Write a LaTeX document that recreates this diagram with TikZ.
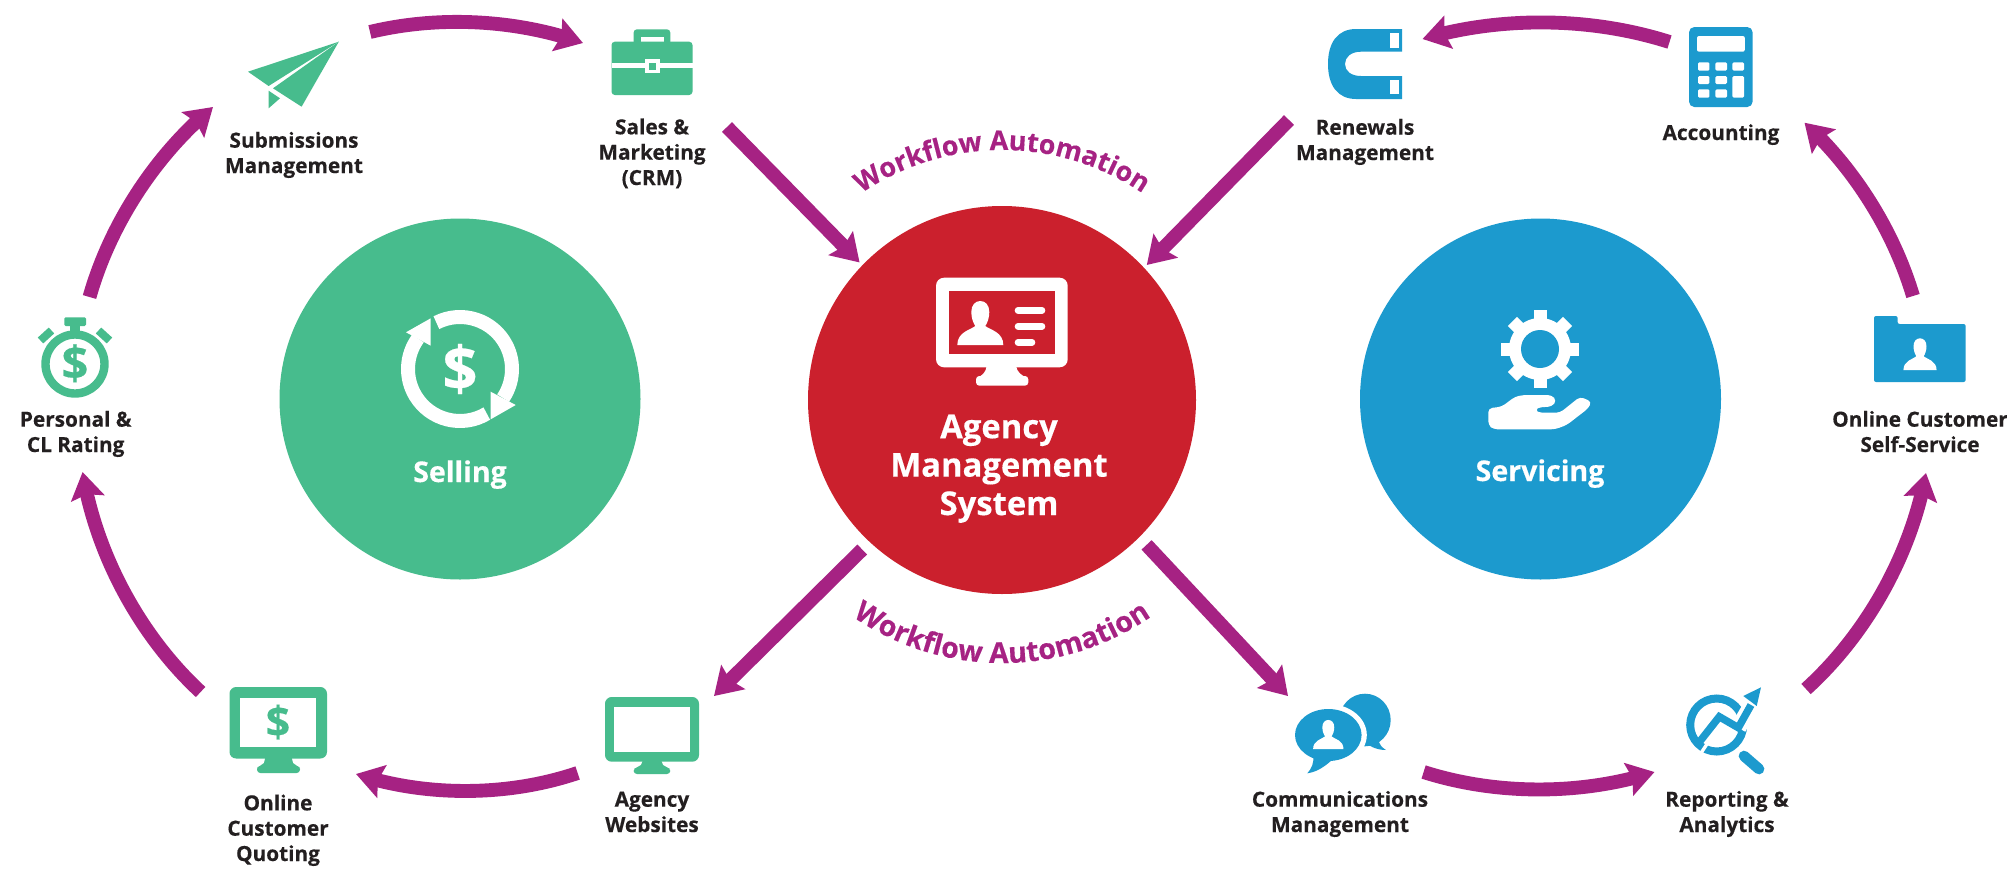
\documentclass[tikz,border=0pt]{standalone}
\usepackage{fontspec}
\setmainfont{Open Sans}[BoldFeatures={FakeBold=0.35}]
\usetikzlibrary{arrows.meta,calc,decorations.text,bending}
\definecolor{greenc}{HTML}{47BC8D}
\definecolor{redc}{HTML}{CB202D}
\definecolor{bluec}{HTML}{1C9ACE}
\definecolor{flowc}{HTML}{A62283}
\definecolor{ink}{HTML}{231F20}
\newcommand{\lfont}{\fontsize{15.6}{19}\selectfont\bfseries}
\newcommand{\hfont}{\fontsize{24.6}{28.8}\selectfont\bfseries}
\newcommand{\sfont}{\fontsize{21.4}{25}\selectfont\bfseries}
\newcommand{\wffont}{\fontsize{20.2}{23}\selectfont\bfseries\color{flowc}}
\newcommand{\wfbfont}{\fontsize{21.5}{23}\selectfont\bfseries\color{flowc}}
\tikzset{
  x=0.75pt,y=-0.75pt,
  lab/.style={font=\lfont,align=center,anchor=base,text=ink,inner sep=0pt},
  big/.style={font=\hfont,align=center,anchor=base,text=white,inner sep=0pt},
  sub/.style={font=\sfont,anchor=base,text=white,inner sep=0pt},
  hub/.style={circle,fill=#1,draw=none,inner sep=0pt},
  flow/.style={draw=flowc,line width=10.4pt,-{Stealth[length=20pt,width=25pt,inset=3pt]}},
  dollar/.style={inner sep=0pt,text=#1},
}
% person glyph: origin = middle of the base line; 46 wide, 44 high before scaling
\newcommand{\personic}[4]{%
  \begin{scope}[shift={(#1,#2)},scale=#3]
  \fill[#4] (-23,0) .. controls (-23,-13) and (-10,-15) .. (-5,-19)
    .. controls (-7,-22) and (-9,-27) .. (-9,-33)
    .. controls (-9,-40) and (-5,-44) .. (0,-44)
    .. controls (5,-44) and (9,-40) .. (9,-33)
    .. controls (9,-27) and (7,-22) .. (5,-19)
    .. controls (10,-15) and (23,-13) .. (23,0) -- cycle;
  \end{scope}}
\begin{document}
\begin{tikzpicture}
\useasboundingbox (0,0) rectangle (2007,868);
\fill[white] (0,0) rectangle (2007,868);

% hubs
\node[hub=greenc,minimum size=270.75pt] (selling) at (460,399) {};
\node[hub=redc,minimum size=291pt,outer sep=3pt] (ams) at (1002,400) {};
\node[hub=bluec,minimum size=270.75pt] (servicing) at (1540.5,399) {};

% curved captions
\path[decorate,decoration={text along path,text align=center,
   text={|\wffont|Workflow Automation}}]
   (1002,400) ++(-140:250) arc[start angle=-140,end angle=-40,radius=250];
\path[decorate,decoration={text along path,text align=center,
   text={|\wfbfont|Workflow Automation}}]
   (1002,400) ++(140:263) arc[start angle=140,end angle=40,radius=263];

% connector end points
\coordinate (rating-out) at (89.5,297);
\coordinate (sub-in) at (213,107);
\coordinate (sales-in) at (583,43);
\coordinate (sub-out) at (370,32);
\coordinate (sales-out) at (727,127);
\coordinate (web-in) at (714,696);
\coordinate (web-out) at (577.6,773);
\coordinate (quote-in) at (356,774);
\coordinate (quote-out) at (200.6,692);
\coordinate (rating-in) at (82.6,472);
\coordinate (comm-in) at (1288,696);
\coordinate (comm-out) at (1423.6,772);
\coordinate (rep-in) at (1654.5,772);
\coordinate (rep-out) at (1806,689);
\coordinate (folder-in) at (1926,473);
\coordinate (folder-out) at (1913,296);
\coordinate (acc-in) at (1804.5,122.7);
\coordinate (acc-out) at (1669.5,42);
\coordinate (mag-in) at (1422.5,39);
\coordinate (mag-out) at (1289,120);

% ring arrows
\draw[flow] (rating-out) to[bend left=17.2,looseness=.85] (sub-in);
\draw[flow] (sub-out) to[bend left=16.5,looseness=.85] (sales-in);
\draw[flow] (web-out) to[bend left=18.4,looseness=.85] (quote-in);
\draw[flow] (quote-out) to[bend left=19,looseness=.85] (rating-in);
\draw[flow] (comm-out) to[bend right=17.7,looseness=.85] (rep-in);
\draw[flow] (rep-out) to[bend right=18.8,looseness=.85] (folder-in);
\draw[flow] (folder-out) to[bend right=15.4,looseness=.85] (acc-in);
\draw[flow] (acc-out) to[bend right=17,looseness=.85] (mag-in);
% straight arrows
\draw[flow] (sales-out) -- (ams.136);
\draw[flow] (mag-out) -- (ams.43.6);
\draw[flow,shorten <=5pt] (ams.-133.8) -- (web-in);
\draw[flow,shorten <=5pt] (ams.-45.8) -- (comm-in);

% --- selling icon
\draw[white,line width=10.5pt] (460,369) ++(-117:52) arc[start angle=-117,end angle=34,radius=52];
\draw[white,line width=10.5pt] (460,369) ++(59:52) arc[start angle=59,end angle=216,radius=52];
\fill[white] (490.7,391.7) -- (515.7,405) -- (490.7,419.3) -- cycle;
\fill[white] (406,332.3) -- (430.7,318.3) -- (430.7,345.7) -- cycle;
\node[dollar=white,font=\fontsize{46}{46}\selectfont\bfseries] (d-sell) at (460,369) {\$};
\node[sub] (t-sell) at (460,482) {Selling};

% --- AMS icon
\fill[white,rounded corners=6pt] (936,277.7) rectangle (1067.7,367.3);
\fill[redc] (949,291) rectangle (1055,353.7);
\fill[white] (986.7,366) .. controls (986,372) and (982,376) .. (978,377) -- (1026,377)
   .. controls (1022,376) and (1017,372) .. (1016,366) -- cycle;
\fill[white,rounded corners=2.5pt] (976,376) rectangle (1028.3,385.7);
\personic{980.3}{345}{1}{white}
\draw[white,line width=5pt,line cap=round] (1018,310.3) -- (1042,310.3);
\draw[white,line width=5pt,line cap=round] (1018,326.3) -- (1042,326.3);
\draw[white,line width=5pt,line cap=round] (1018,342.3) -- (1032,342.3);
\node[big] (t-ams) at (999,515) {Agency\\Management\\System};

% --- servicing icon
\fill[white] (1540,349) circle[radius=31];
\foreach \a in {0,45,...,315}
  \fill[white,rotate around={\a:(1540,349)}] (1533.5,349) rectangle (1546.5,310);
\fill[bluec] (1540,349) circle[radius=19];
\fill[white,rounded corners=3pt] (1488.3,408.3) -- (1501.7,406.7) -- (1515,396.7) -- (1523.3,395)
  -- (1551.7,395) -- (1556.7,400.7) -- (1551.7,406.7) -- (1538.3,407.3) -- (1535,410)
  -- (1538.3,412.7) -- (1560,412.7) -- (1580,396.7) -- (1591.7,401.7) -- (1588.3,408.3)
  -- (1566.7,425) -- (1555,429.3) -- (1493.3,429.3) -- (1488.3,425) -- cycle;
\node[sub] (t-serv) at (1540,481) {Servicing};

% --- stopwatch
\draw[greenc,line width=6.3pt] (75,364) circle[radius=29.5];
\fill[greenc,rounded corners=1pt] (64.3,317.3) rectangle (86,326);
\fill[greenc] (70,326) rectangle (80,334);
\draw[greenc,line width=6pt] (40.5,340.5) -- (51.5,330.5);
\draw[greenc,line width=6pt] (98.5,330.5) -- (109.5,340.5);
\node[dollar=greenc,font=\fontsize{35}{35}\selectfont\bfseries] (d-rate) at (75,363.3) {\$};
\node[lab] (rating) at (75.7,452) {Personal \&\\CL Rating};

% --- plane
\fill[greenc] (338.8,41.7) -- (248,71.7) -- (268.6,86) -- cycle;
\fill[greenc] (338.8,41.7) -- (273,88.3) -- (301.6,106.7) -- cycle;
\fill[greenc] (268.6,90.7) -- (280,98.3) -- (268.6,108.3) -- cycle;
\node[lab] (submissions) at (294,173) {Submissions\\Management};

% --- briefcase
\fill[greenc,rounded corners=2.5pt] (633.6,29.3) rectangle (670.3,45);
\fill[white] (640.5,37.3) rectangle (663.5,42);
\fill[greenc,rounded corners=2.5pt] (611.5,41.7) rectangle (692.5,95);
\fill[white] (611.5,63.3) rectangle (692.5,68.3);
\fill[white] (645,59.3) rectangle (660,73.3);
\fill[greenc] (648.8,62.7) rectangle (655.7,70);
\node[lab] (sales) at (652,185) {Sales \&\\Marketing\\(CRM)};

% --- quoting monitor
\fill[greenc,rounded corners=5pt] (229.5,687) rectangle (327,758.5);
\fill[white] (240,698.3) rectangle (316,746.7);
\fill[greenc] (265.4,757) -- (291.5,757) -- (293,763) -- (300,768) -- (257,768) -- (264,763) -- cycle;
\fill[greenc,rounded corners=2.5pt] (257,766) rectangle (300,773);
\node[dollar=greenc,font=\fontsize{32}{32}\selectfont\bfseries] (d-quote) at (278,722) {\$};
\node[lab] (quoting) at (278,861) {Online\\Customer\\Quoting};

% --- website monitor
\fill[greenc,rounded corners=5pt] (605,697) rectangle (699,761.7);
\fill[white] (614.3,706.7) rectangle (690,751.7);
\fill[greenc] (643,760) -- (661,760) -- (663,765) -- (670,769) -- (634,769) -- (641,765) -- cycle;
\fill[greenc,rounded corners=2.5pt] (633.6,768) rectangle (670.3,774);
\node[lab] (websites) at (652,832) {Agency\\Websites};

% --- magnet
\fill[bluec] (1402,29) -- (1356,29) .. controls (1338,29) and (1328,42) .. (1328,64)
  .. controls (1328,86) and (1338,99) .. (1356,99) -- (1402,99) -- (1402,76) -- (1361,76)
  .. controls (1351,76) and (1345,71) .. (1345,64) .. controls (1345,57) and (1351,51.7) .. (1361,51.7)
  -- (1402,51.7) -- cycle;
\fill[white] (1390,33) rectangle (1399,48.3);
\fill[white] (1390,80) rectangle (1399,94.3);
\node[lab] (renewals) at (1365,160) {Renewals\\Management};

% --- calculator
\fill[bluec,rounded corners=4pt] (1689,27) rectangle (1752.6,107);
\fill[white,rounded corners=1.5pt] (1697,36) rectangle (1744.8,51.7);
\foreach \xa/\ya/\xb/\yb in {1698/62.3/1709.4/70.7,1715.4/62.3/1727/70.7,1732.4/62.3/1744/70.7,
  1698/76/1709.4/84,1715.4/76/1727/84,1732.4/76/1744/97.7,1698/89.3/1709.4/97.7,1715.4/89.3/1727/97.7}
  \fill[white,rounded corners=1pt] (\xa,\ya) rectangle (\xb,\yb);
\node[lab] (accounting) at (1721,140) {Accounting};

% --- folder
\fill[bluec,rounded corners=1.5pt] (1874,316) -- (1897.6,316) -- (1897.6,324) -- (1965.6,324)
   -- (1965.6,382) -- (1874,382) -- cycle;
\personic{1920}{370}{.72}{white}
\node[lab] (selfservice) at (1920,452) {Online Customer\\Self-Service};

% --- speech bubbles
\fill[bluec] (1365,720) ellipse[x radius=25.7,y radius=26.3];
\fill[bluec] (1381,733) .. controls (1377,740) and (1378,745) .. (1386,750)
   .. controls (1376,750) and (1368,746) .. (1360,738) -- cycle;
\fill[white] (1328.3,735) ellipse[x radius=38.5,y radius=31];
\fill[bluec] (1328.3,735) ellipse[x radius=33.3,y radius=26];
\fill[bluec] (1313.3,755) .. controls (1314,763) and (1312,768) .. (1307.3,773.3)
   .. controls (1316,772) and (1323,768) .. (1332,760) -- cycle;
\personic{1328.3}{749}{.66}{white}
\node[lab] (comms) at (1340,832) {Communications\\Management};

% --- reporting
\draw[bluec,line width=6pt] (1716.7,725) circle[radius=26.5];
\draw[bluec,line width=8pt,line cap=round] (1744,756) -- (1759,769);
\draw[white,line width=2.5pt] (1701,753) -- (1709,741);
\draw[white,line width=12pt] (1738.3,727.7) -- (1754,701);
\fill[white] (1762,683) -- (1736,696) -- (1758,712) -- cycle;
\draw[bluec,line width=5.6pt,line join=miter] (1697,745) -- (1719.3,716.7) -- (1738.3,727.7) -- (1751,705);
\fill[bluec] (1761,687.3) -- (1743.3,696) -- (1756.7,706) -- cycle;
\node[lab] (reporting) at (1727,832) {Reporting \&\\Analytics};
\end{tikzpicture}
\end{document}
